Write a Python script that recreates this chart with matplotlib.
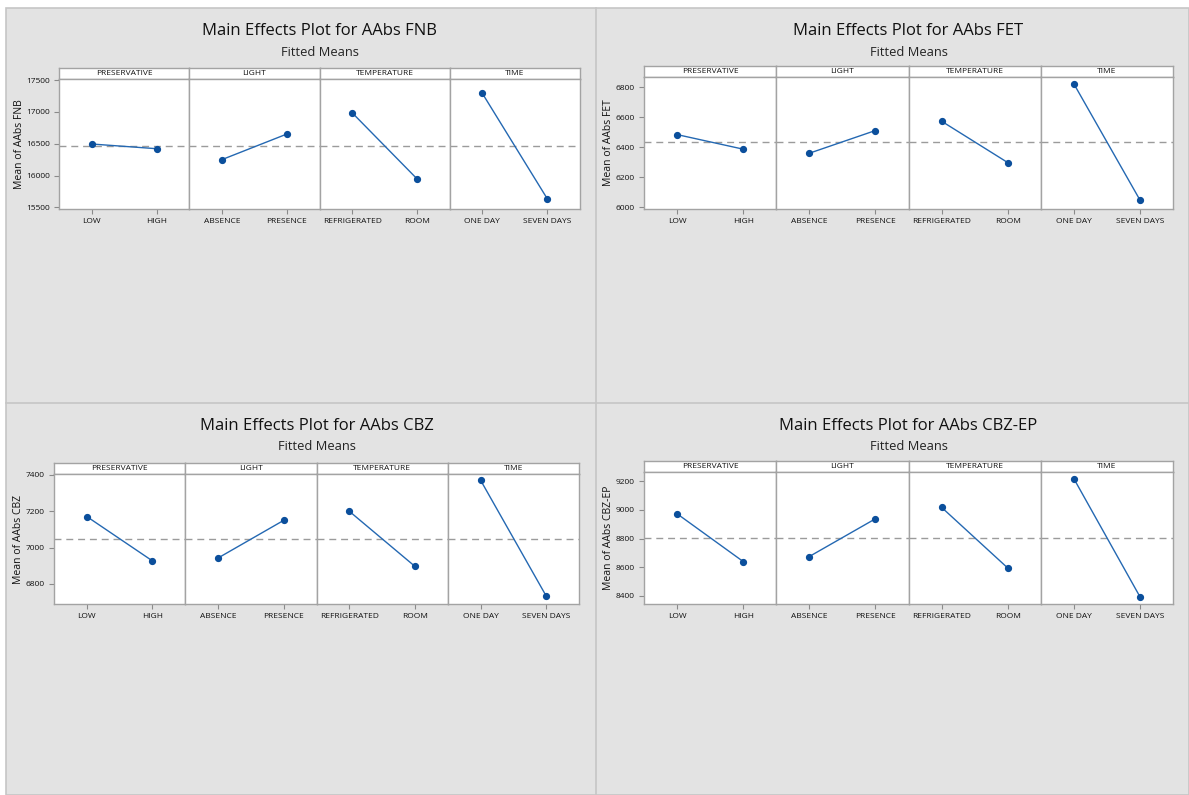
import numpy as np
import matplotlib
matplotlib.use("Agg")
import matplotlib.pyplot as plt
from matplotlib.lines import Line2D
from matplotlib.patches import Rectangle

plt.rcParams["font.family"] = ["Open Sans", "DejaVu Sans"]

# ---- data -------------------------------------------------------------
factors = ["PRESERVATIVE", "LIGHT", "TEMPERATURE", "TIME"]
levels = [["LOW", "HIGH"],
          ["ABSENCE", "PRESENCE"],
          ["REFRIGERATED", "ROOM"],
          ["ONE DAY", "SEVEN DAYS"]]

responses = ["AAbs FNB", "AAbs FET", "AAbs CBZ", "AAbs CBZ-EP"]

fnb_means = [[16495, 16421], [16249, 16652], [16987, 15945], [17291, 15631]]
fet_means = [[6484, 6387], [6360, 6511], [6573, 6298], [6822, 6049]]
cbz_means = [[7171, 6927], [6943, 7150], [7200, 6897], [7371, 6734]]
cbzep_means = [[8973, 8639], [8674, 8938], [9018, 8594], [9219, 8393]]

fnb_ticks = [15500, 16000, 16500, 17000, 17500]
fet_ticks = [6000, 6200, 6400, 6600, 6800]
cbz_ticks = [6800, 7000, 7200, 7400]
cbzep_ticks = [8400, 8600, 8800, 9000, 9200]

all_means = [fnb_means, fet_means, cbz_means, cbzep_means]
all_ticks = [fnb_ticks, fet_ticks, cbz_ticks, cbzep_ticks]

# ---- layout (pixels) --------------------------------------------------
W, H = 1189, 795
# left, right, strip top, plot top, plot bottom, ylim
layouts = [
    dict(x0=59, x1=580, st=68, pt=79, pb=209, ylim=(15474, 17516), title_y=31),
    dict(x0=644, x1=1173, st=66, pt=77, pb=209, ylim=(5989, 6867), title_y=31),
    dict(x0=54, x1=579, st=463, pt=474, pb=604, ylim=(6690, 7405), title_y=426),
    dict(x0=644, x1=1173, st=461, pt=472, pb=604, ylim=(8342, 9265), title_y=426),
]

BG = "#e3e3e3"
FRAME = "#a3a3a3"
LINE_C = "#2468b2"
MARK_C = "#0b4f9c"
MEAN_C = "#9b9b9b"

fig = plt.figure(figsize=(W / 100, H / 100), dpi=100)
fig.patch.set_facecolor("white")


def px_axes(x0, y_top, x1, y_bot, **kw):
    return fig.add_axes([x0 / W, 1 - y_bot / H, (x1 - x0) / W, (y_bot - y_top) / H], **kw)


# panel background and separators
fig.add_artist(Rectangle((6 / W, 0), (W - 6) / W, (H - 8) / H, transform=fig.transFigure,
                         facecolor=BG, edgecolor="#c6c6c6", lw=1.2, zorder=0))
fig.add_artist(Line2D([596 / W, 596 / W], [0, 1 - 8 / H], transform=fig.transFigure,
                      color="#c6c6c6", lw=1.2, zorder=0))
fig.add_artist(Line2D([6 / W, 1], [1 - 403 / H, 1 - 403 / H], transform=fig.transFigure,
                      color="#c6c6c6", lw=1.2, zorder=0))

for resp, means, ticks, lay in zip(responses, all_means, all_ticks, layouts):
    grand = np.mean(means)
    width = (lay["x1"] - lay["x0"]) / len(factors)
    cx = (lay["x0"] + lay["x1"]) / 2
    fig.text(cx / W, 1 - lay["title_y"] / H, f"Main Effects Plot for {resp}",
             ha="center", va="center", fontsize=12, color="#111111")
    fig.text(cx / W, 1 - (lay["title_y"] + 21) / H, "Fitted Means",
             ha="center", va="center", fontsize=9.3, color="#222222")

    for j, (fac, lev, vals) in enumerate(zip(factors, levels, means)):
        a0 = lay["x0"] + j * width
        a1 = a0 + width
        # factor strip
        sax = px_axes(a0, lay["st"], a1, lay["pt"])
        sax.set_facecolor("white")
        sax.set_xticks([])
        sax.set_yticks([])
        for s in sax.spines.values():
            s.set_color(FRAME)
            s.set_linewidth(1.0)
        sax.text(0.5, 0.5, fac, ha="center", va="center", fontsize=6,
                 color="#111111", transform=sax.transAxes)

        ax = px_axes(a0, lay["pt"], a1, lay["pb"])
        ax.set_facecolor("white")
        ax.axhline(grand, color=MEAN_C, lw=1.0, ls=(0, (5, 3.5)), zorder=1)
        xs = np.arange(len(vals))
        ax.plot(xs, vals, color=LINE_C, lw=1.0, zorder=2)
        ax.plot(xs, vals, ls="none", marker="o", ms=4.2, color=MARK_C, zorder=3)
        ax.set_xlim(-0.5, 1.5)
        ax.set_ylim(*lay["ylim"])
        ax.set_xticks(xs)
        ax.set_xticklabels(lev)
        ax.set_yticks(ticks)
        ax.set_yticklabels([str(t) for t in ticks])
        ax.tick_params(axis="both", direction="out", length=3.5, width=0.8,
                       color="#8a8a8a", labelsize=6, labelcolor="#111111", pad=3)
        if j > 0:
            ax.tick_params(axis="y", left=False, labelleft=False)
        else:
            ax.set_ylabel(f"Mean of {resp}", fontsize=7.5, color="#111111", labelpad=1)
        for s in ax.spines.values():
            s.set_color(FRAME)
            s.set_linewidth(1.0)

fig.savefig("out.png", dpi=100, facecolor=fig.get_facecolor())
